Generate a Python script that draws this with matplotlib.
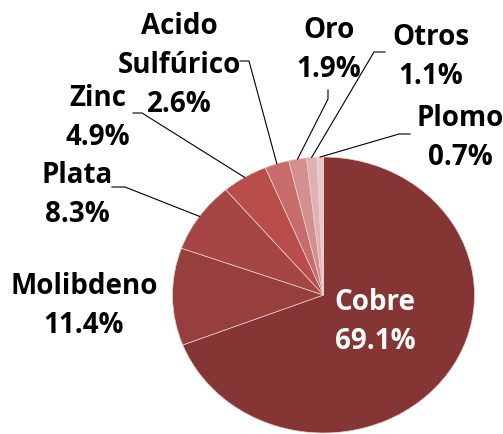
import matplotlib.pyplot as plt
import numpy as np

names = ['Cobre', 'Molibdeno', 'Plata', 'Zinc', 'Acido\nSulfúrico', 'Oro', 'Otros', 'Plomo']
shares = [69.1, 11.4, 8.3, 4.9, 2.6, 1.9, 1.1, 0.7]
colors = ['#853533', '#963f3d', '#a54644', '#b94d4a', '#c76b6b', '#d49090', '#deb1b2', '#e8c9ca']

W, H = 503, 435
cx, cy, rx, ry = 323.5, 296, 151, 138   # pie ellipse in pixels (top origin)

fig = plt.figure(figsize=(W / 100, H / 100), dpi=100)
ax = fig.add_axes([(cx - rx) / W, (H - cy - ry) / H, 2 * rx / W, 2 * ry / H])
wedges, _ = ax.pie(shares, colors=colors, startangle=90, counterclock=False,
                   wedgeprops=dict(edgecolor='#f0d0d0', linewidth=0.5))
ax.set_aspect('auto')
ax.set_xlim(-1, 1)
ax.set_ylim(-1, 1)


def px(x, y):
    # pixel position (top origin) -> data coords
    return (x - cx) / rx, (cy - y) / ry


# label centre, and leader line start/knee in pixels (None = no line)
label_pos = [(375, 322), (84, 306), (77, 195), (98, 118), (179, 66), (329, 50), (431, 57), (460, 138)]
leaders = [None, None,
           [(112, 188), (125, 188)],
           [(133, 114), (142, 114)],
           [(240, 62), (249, 62)],
           [(328, 91), (328, 100)],
           [(385, 53), (374, 53)],
           [(410, 135), (399, 135)]]
step = 39  # px between text lines

font = dict(family='Open Sans', fontweight='bold', fontsize=20)
for i, w in enumerate(wedges):
    col = 'white' if i == 0 else 'black'
    lines = names[i].split('\n') + ['%.1f%%' % shares[i]]
    x0, y0 = label_pos[i]
    top = y0 - step * (len(lines) - 1) / 2
    for k, s in enumerate(lines):
        lx, ly = px(x0, top + k * step)
        ax.text(lx, ly, s, ha='center', va='center', color=col, **font)
    if leaders[i] is not None:
        ang = np.deg2rad((w.theta1 + w.theta2) / 2)
        pts = [px(*p) for p in leaders[i]] + [(np.cos(ang), np.sin(ang))]
        xs, ys = zip(*pts)
        ax.plot(xs, ys, color='black', lw=0.8, clip_on=False)

fig.savefig('out.png', dpi=100)
